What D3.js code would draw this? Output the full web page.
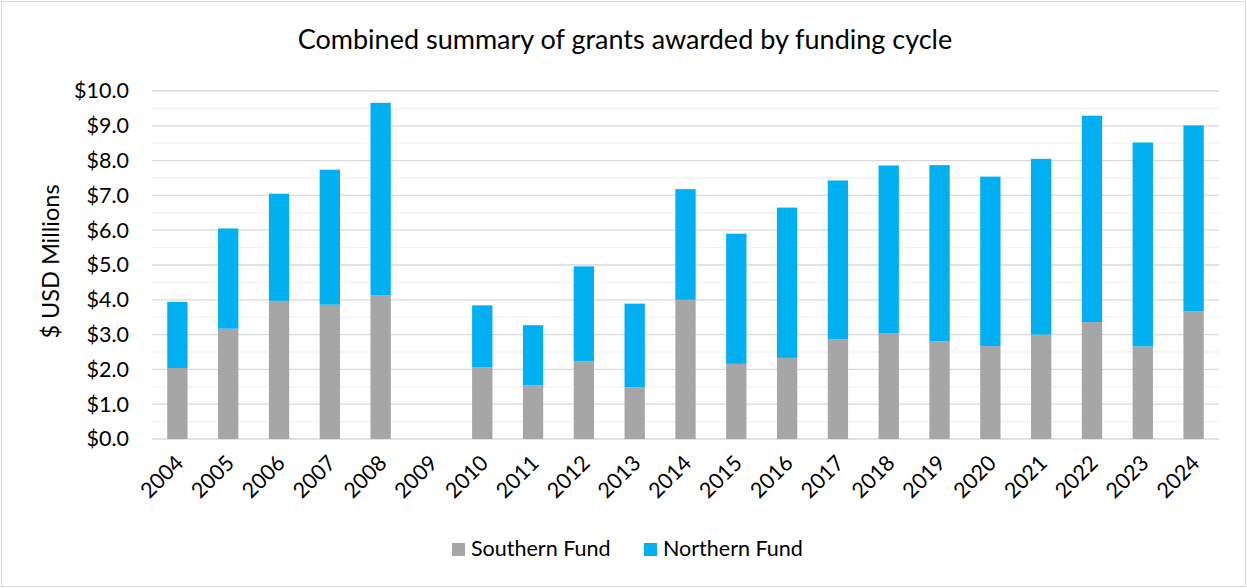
<!DOCTYPE html>
<html>
<head>
<style>
body { margin: 0; background: #fff; }
text { font-family: Lato, "Open Sans", sans-serif; fill: #000; }
</style>
</head>
<body>
<script src="https://cdn.jsdelivr.net/npm/d3@7"></script>
<script>

// funding cycles and amounts (USD millions)
var years = ["2004","2005","2006","2007","2008","2009","2010","2011","2012","2013","2014",
             "2015","2016","2017","2018","2019","2020","2021","2022","2023","2024"];
var southern = [2.04,3.17,3.97,3.86,4.13,0,2.06,1.54,2.23,1.49,4.00,
                2.16,2.33,2.87,3.03,2.81,2.67,3.00,3.36,2.66,3.67];
var northern = [1.90,2.88,3.08,3.88,5.53,0,1.78,1.73,2.73,2.40,3.18,
                3.74,4.32,4.56,4.83,5.06,4.87,5.05,5.93,5.86,5.34];
var yTicks = [0,1,2,3,4,5,6,7,8,9,10];
var seriesNames = ["Southern Fund","Northern Fund"];
var colors = ["#a6a6a6","#00b0f0"];

var W = 1247, H = 588;
var margin = {left:152, right:28, top:91, bottom:149};

var svg = d3.select("body").append("svg")
    .attr("width", W).attr("height", H);

// outer chart border
svg.append("rect")
    .attr("x", 1.5).attr("y", 1.5)
    .attr("width", W - 3).attr("height", H - 3)
    .attr("fill", "#fff").attr("stroke", "#d9d9d9");

var x = d3.scaleBand().domain(years)
    .range([margin.left, W - margin.right]).paddingInner(0.6).paddingOuter(0.3);
var y = d3.scaleLinear().domain([0,10]).range([H - margin.bottom, margin.top]);

// minor grid lines (every 0.5)
svg.append("g").selectAll("line")
    .data(d3.range(0.5, 10, 1))
    .join("line")
    .attr("x1", margin.left).attr("x2", W - margin.right)
    .attr("y1", d => y(d)).attr("y2", d => y(d))
    .attr("stroke", "#f2f2f2").attr("stroke-width", 1.3);

// major grid lines
svg.append("g").selectAll("line")
    .data(yTicks)
    .join("line")
    .attr("x1", margin.left).attr("x2", W - margin.right)
    .attr("y1", d => y(d)).attr("y2", d => y(d))
    .attr("stroke", "#d9d9d9").attr("stroke-width", 1.3);

// stack the two funds
var rows = years.map((yr, i) => ({year: yr, s: southern[i], n: northern[i]}));
var stack = d3.stack().keys(["s","n"])(rows);

svg.append("g").selectAll("g")
    .data(stack)
    .join("g")
    .attr("fill", (d, i) => colors[i])
    .selectAll("rect")
    .data(d => d.filter(p => p[1] - p[0] > 0))
    .join("rect")
    .attr("x", d => x(d.data.year))
    .attr("width", x.bandwidth())
    .attr("y", d => y(d[1]))
    .attr("height", d => y(d[0]) - y(d[1]));

// y axis labels
var yAxis = d3.axisLeft(y).tickValues(yTicks)
    .tickFormat(d => "$" + d3.format(".1f")(d)).tickSize(0).tickPadding(23);
svg.append("g")
    .attr("transform", "translate(" + margin.left + ",0)")
    .call(yAxis)
    .call(g => g.select(".domain").remove())
    .selectAll("text")
    .style("font-family", "Lato, sans-serif")
    .attr("font-size", 21.5).attr("fill", "#000");

// x axis labels, rotated
var xAxis = d3.axisBottom(x).tickSize(0).tickPadding(0);
svg.append("g")
    .attr("transform", "translate(0," + (H - margin.bottom) + ")")
    .call(xAxis)
    .call(g => g.select(".domain").remove())
    .selectAll("text")
    .style("font-family", "Lato, sans-serif")
    .attr("font-size", 21.5).attr("fill", "#000")
    .attr("text-anchor", "end")
    .attr("dy", "0.35em")
    .attr("transform", "translate(2,20) rotate(-45)");

// title
svg.append("text")
    .attr("x", 625).attr("y", 49)
    .attr("text-anchor", "middle")
    .attr("font-size", 27)
    .text("Combined summary of grants awarded by funding cycle");

// y axis title
svg.append("text")
    .attr("transform", "translate(59," + y(5.1) + ") rotate(-90)")
    .attr("text-anchor", "middle")
    .attr("font-size", 23.5)
    .text("$ USD Millions");

// legend
var legend = svg.append("g").attr("transform", "translate(452,543)");
var lx = [0, 192];
seriesNames.forEach((name, i) => {
  legend.append("rect")
      .attr("x", lx[i]).attr("y", 0)
      .attr("width", 13).attr("height", 13)
      .attr("fill", colors[i]);
  legend.append("text")
      .attr("x", lx[i] + 19).attr("y", 13)
      .attr("font-size", 21.5)
      .text(name);
});

</script>
</body>
</html>
